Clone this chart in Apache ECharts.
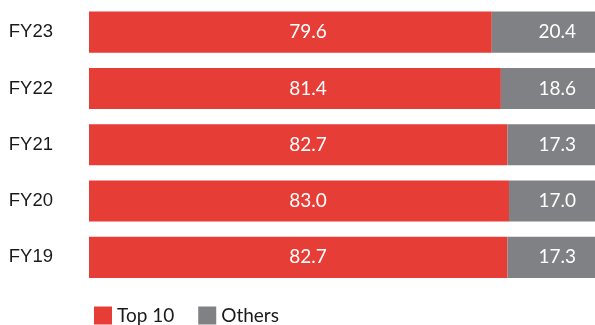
<!DOCTYPE html>
<html>
<head>
<meta charset="utf-8">
<script src="https://cdn.jsdelivr.net/npm/echarts@6/dist/echarts.min.js"></script>
<style>
  html, body { margin: 0; padding: 0; background: #fff; }
  #chart { width: 595px; height: 325px; }
</style>
</head>
<body>
<div id="chart"></div>
<script>
// data, bottom to top
const years = ['FY19', 'FY20', 'FY21', 'FY22', 'FY23']
const top10 = [82.7, 83.0, 82.7, 81.4, 79.6]
const others = [17.3, 17.0, 17.3, 18.6, 20.4]

const RED = '#E63D36'
const GREY = '#808184'
const NUM_FONT = 'Lato, "Open Sans", sans-serif'

const chart = echarts.init(document.getElementById('chart'))

chart.setOption({
  animation: false,
  grid: { left: 89, right: -1.5, top: 4, bottom: 39.5 },
  legend: {
    left: 94,
    top: 306,
    padding: 0,
    icon: 'rect',
    itemWidth: 18,
    itemHeight: 18,
    itemGap: 24,
    textStyle: { fontFamily: NUM_FONT, fontSize: 19, color: '#1a1a1a' },
    data: ['Top 10', 'Others']
  },
  xAxis: { type: 'value', min: 0, max: 100, show: false },
  yAxis: {
    type: 'category',
    data: years,
    axisLine: { show: false },
    axisTick: { show: false },
    axisLabel: {
      margin: 36,
      fontFamily: '"Liberation Sans", Arial, sans-serif',
      fontSize: 18.5,
      color: '#1a1a1a'
    }
  },
  series: [
    {
      name: 'Top 10',
      type: 'bar',
      stack: 'total',
      barCategoryGap: '27%',
      itemStyle: { color: RED },
      label: {
        show: true,
        position: [219, '50%'],
        align: 'center',
        verticalAlign: 'middle',
        color: '#fff',
        fontFamily: NUM_FONT,
        fontSize: 19,
        formatter: p => p.value.toFixed(1)
      },
      data: top10
    },
    {
      name: 'Others',
      type: 'bar',
      stack: 'total',
      itemStyle: { color: GREY },
      label: {
        show: true,
        position: 'insideRight',
        distance: 19,
        color: '#fff',
        fontFamily: NUM_FONT,
        fontSize: 19,
        formatter: p => p.value.toFixed(1)
      },
      data: others
    }
  ]
})
</script>
</body>
</html>
